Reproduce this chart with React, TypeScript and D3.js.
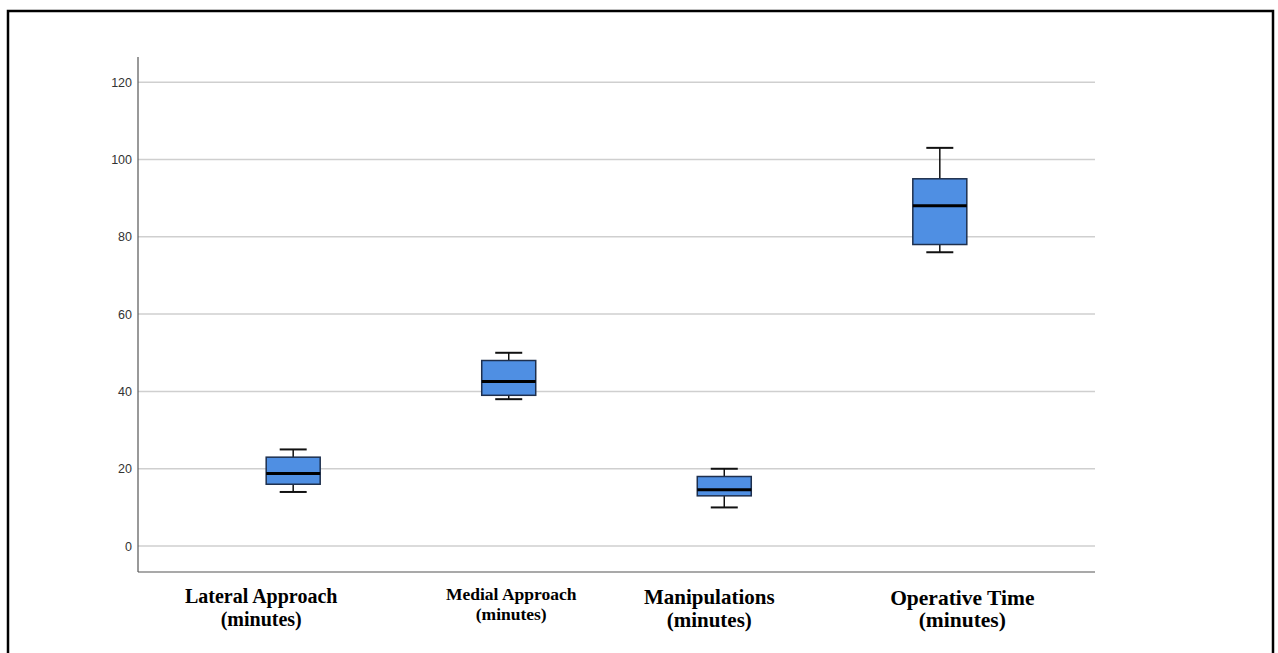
import React from "react";
import * as d3 from "d3";

const categories = ["Lateral Approach", "Medial Approach", "Manipulations", "Operative Time"];
const subLabel = "(minutes)";
const whiskerLow = [14, 38, 10, 76];
const q1 = [16, 39, 13, 78];
const medians = [18.8, 42.6, 14.6, 88];
const q3 = [23, 48, 18, 95];
const whiskerHigh = [25, 50, 20, 103];
const yTicks = [0, 20, 40, 60, 80, 100, 120];

// label styling (not data)
const labelSizes = [20, 17.5, 21, 21.5];
const labelDx = [-32, 2.5, -15, 22.5];
const labelBase1 = [603, 600, 604, 605];
const labelBase2 = [626, 620, 627, 627];

const W = 1278;
const H = 653;
const left = 138;
const right = 1095;
const top = 57;
const bottom = 572;

export default function App() {
  const y = d3.scaleLinear().domain([-6.7, 126.5]).range([bottom, top]);
  const x = d3.scalePoint<string>().domain(categories).range([left, right]).padding(0.72);
  const boxW = 54;
  const capW = 27;
  const serif = "'Liberation Serif', 'Times New Roman', serif";
  return (
    <svg width={W} height={H} style={{ position: "absolute", left: 0, top: 0 }} xmlns="http://www.w3.org/2000/svg">
      <rect x={0} y={0} width={W} height={H} fill="#fff" />
      <rect x={8} y={11} width={1265} height={660} fill="none" stroke="#000" strokeWidth={2.5} />
      {yTicks.map((t) => (
        <g key={t}>
          <line x1={left} x2={right} y1={y(t)} y2={y(t)} stroke="#cfcfcf" strokeWidth={1.5} />
          <text x={132} y={y(t)} dy="0.36em" textAnchor="end" fontFamily="Arial, 'Liberation Sans', sans-serif" fontSize={12.5} fill="#333">
            {t}
          </text>
        </g>
      ))}
      <line x1={left} x2={left} y1={top} y2={bottom} stroke="#555" strokeWidth={1.2} />
      <line x1={left} x2={right} y1={bottom} y2={bottom} stroke="#555" strokeWidth={1.2} />
      {categories.map((c, i) => {
        const cx = x(c) as number;
        return (
          <g key={c}>
            <line x1={cx} x2={cx} y1={y(whiskerHigh[i])} y2={y(q3[i])} stroke="#111" strokeWidth={1.5} />
            <line x1={cx} x2={cx} y1={y(q1[i])} y2={y(whiskerLow[i])} stroke="#111" strokeWidth={1.5} />
            <line x1={cx - capW / 2} x2={cx + capW / 2} y1={y(whiskerHigh[i])} y2={y(whiskerHigh[i])} stroke="#111" strokeWidth={2} />
            <line x1={cx - capW / 2} x2={cx + capW / 2} y1={y(whiskerLow[i])} y2={y(whiskerLow[i])} stroke="#111" strokeWidth={2} />
            <rect x={cx - boxW / 2} y={y(q3[i])} width={boxW} height={y(q1[i]) - y(q3[i])} fill="#4f8fe3" stroke="#1e2f4d" strokeWidth={1.5} />
            <line x1={cx - boxW / 2} x2={cx + boxW / 2} y1={y(medians[i])} y2={y(medians[i])} stroke="#000" strokeWidth={3} />
            <text x={cx + labelDx[i]} y={labelBase1[i]} textAnchor="middle" fontFamily={serif} fontWeight="bold" fontSize={labelSizes[i]} fill="#000">
              {c}
            </text>
            <text x={cx + labelDx[i]} y={labelBase2[i]} textAnchor="middle" fontFamily={serif} fontWeight="bold" fontSize={labelSizes[i]} fill="#000">
              {subLabel}
            </text>
          </g>
        );
      })}
    </svg>
  );
}
